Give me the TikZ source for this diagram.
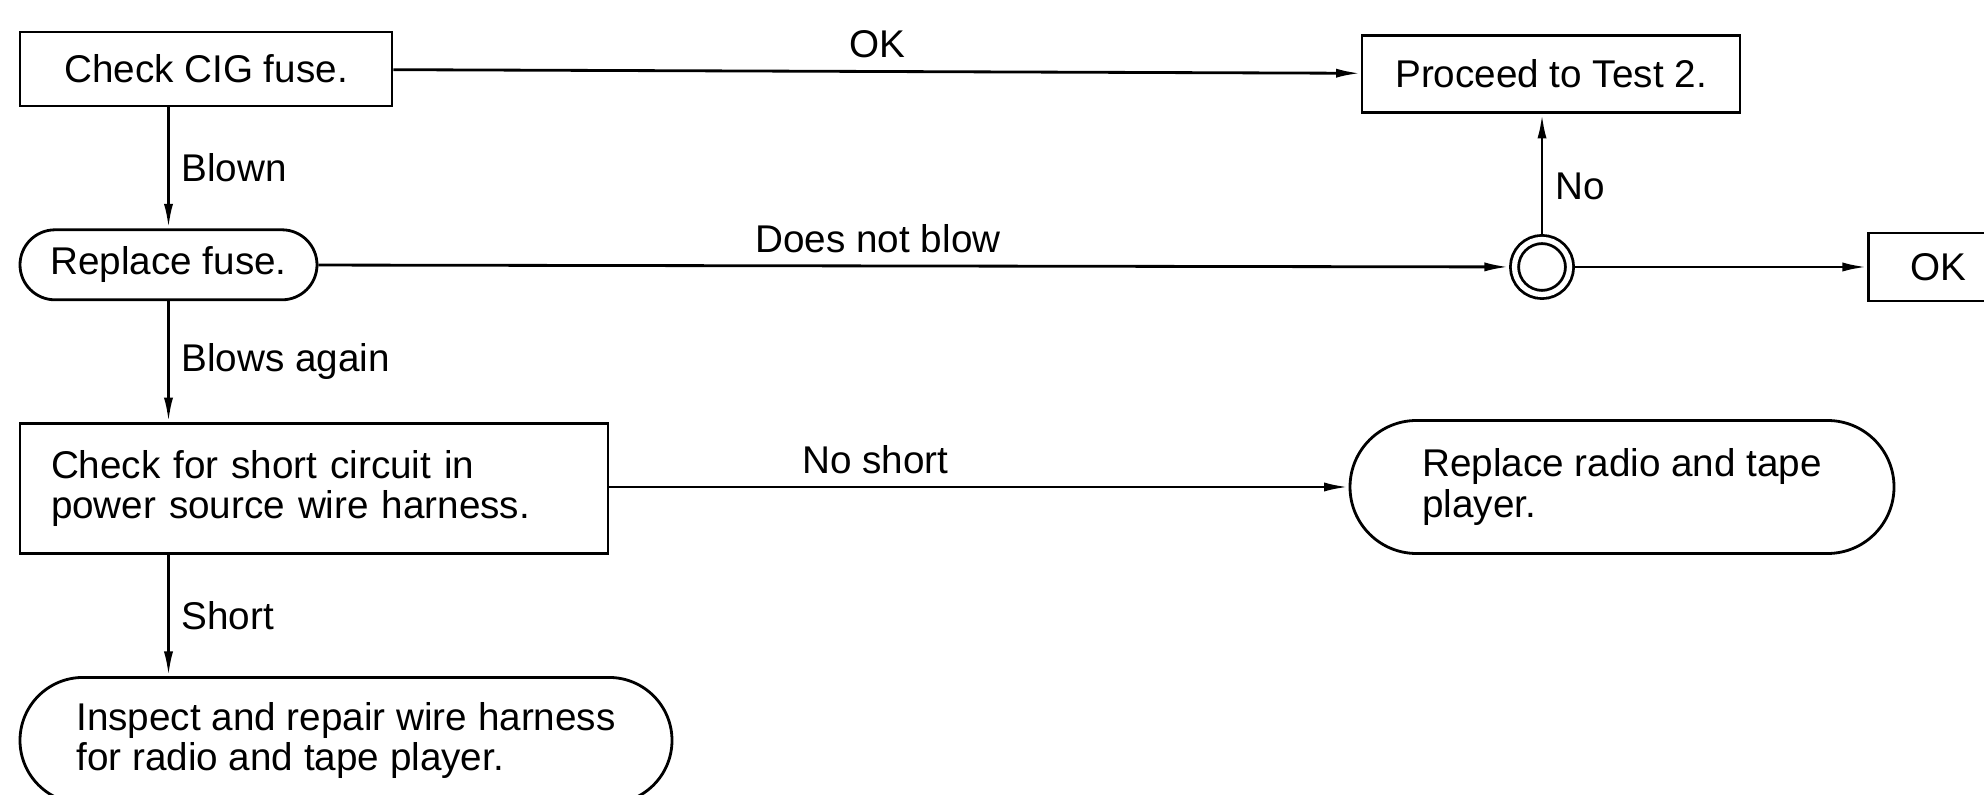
\documentclass[tikz,border=0pt]{standalone}
\usepackage{fontspec}
\setmainfont{Liberation Sans}
\usepackage{tikz}
\usetikzlibrary{
    positioning,
    arrows.meta
}

\begin{document}
\begin{tikzpicture}[
    node distance=1.21cm,
    stepbox/.style={
        rectangle,
        draw,
        line width=0.8pt,
        align=center,
        font=\fontsize{11pt}{11.5pt}\selectfont
    },
    capsule/.style={
        rectangle,
        draw,
        line width=0.8pt,
        rounded corners=#1,
        minimum height=2*#1,
        align=left,
        font=\fontsize{11pt}{11.5pt}\selectfont
    },
    junction/.style={
        circle,
        draw,
        line width=0.8pt,
        double,
        double distance=1.5pt,
        minimum size=0.55cm,
        inner sep=0pt,
        outer sep=0.055cm
    },
    lbl/.style={font=\fontsize{11pt}{11.5pt}\selectfont},
    arrow/.style={-{Latex[length=7pt,width=2.6pt]}, line width=0.8pt}
]

\useasboundingbox (0,0) rectangle (19.84,7.94);
\clip (0,0) rectangle (19.84,7.94);

\node[stepbox, minimum width=3.72cm, minimum height=0.74cm] (cig) at (2.06,7.25)
    {Check CIG fuse.};

\node[capsule=0.35cm, minimum width=2.97cm, below=of cig.south west, anchor=north west] (fuse)
    {Replace fuse.};

\node[stepbox, minimum width=5.88cm, minimum height=1.30cm, text width=5.26cm, align=left,
    below=of fuse.south west, anchor=north west] (short)
    {Check for short circuit in\\power source wire harness.};

\node[capsule=0.63cm, minimum width=6.52cm, below=of short.south west, anchor=north west] (repair)
    {Inspect and repair wire harness\\for radio and tape player.};

\node[stepbox, minimum width=3.78cm, minimum height=0.77cm] (proceed) at (15.51,7.2)
    {Proceed to Test 2.};

\node[junction] (recheck) at (15.42,5.27) {};

\node[stepbox, minimum width=1.40cm, minimum height=0.68cm, right=2.92cm of recheck] (ok)
    {OK};

\node[capsule=0.665cm, minimum width=5.44cm] (radio) at (16.22,3.07)
    {Replace radio and tape\\player.};

\draw[arrow] (cig) -- node[lbl, above] {OK} (proceed);
\draw[arrow] (cig.south -| fuse.north) -- node[lbl, right] {Blown} (fuse.north);
\draw[arrow] (fuse) -- node[lbl, above, pos=0.47] {Does not blow} (recheck);
\draw[arrow] (fuse.south) -- node[lbl, right] {Blows again} (fuse.south |- short.north);
\draw[arrow] (short.east |- radio.west) -- node[lbl, above, pos=0.36] {No short} (radio.west);
\draw[arrow] (short.south -| fuse.south) -- node[lbl, right] {Short} (fuse.south |- repair.north);
\draw[arrow] (recheck) -- node[lbl, right, pos=0.4] {No} (recheck |- proceed.south);
\draw[arrow] (recheck) -- (ok);

\end{tikzpicture}
\end{document}
